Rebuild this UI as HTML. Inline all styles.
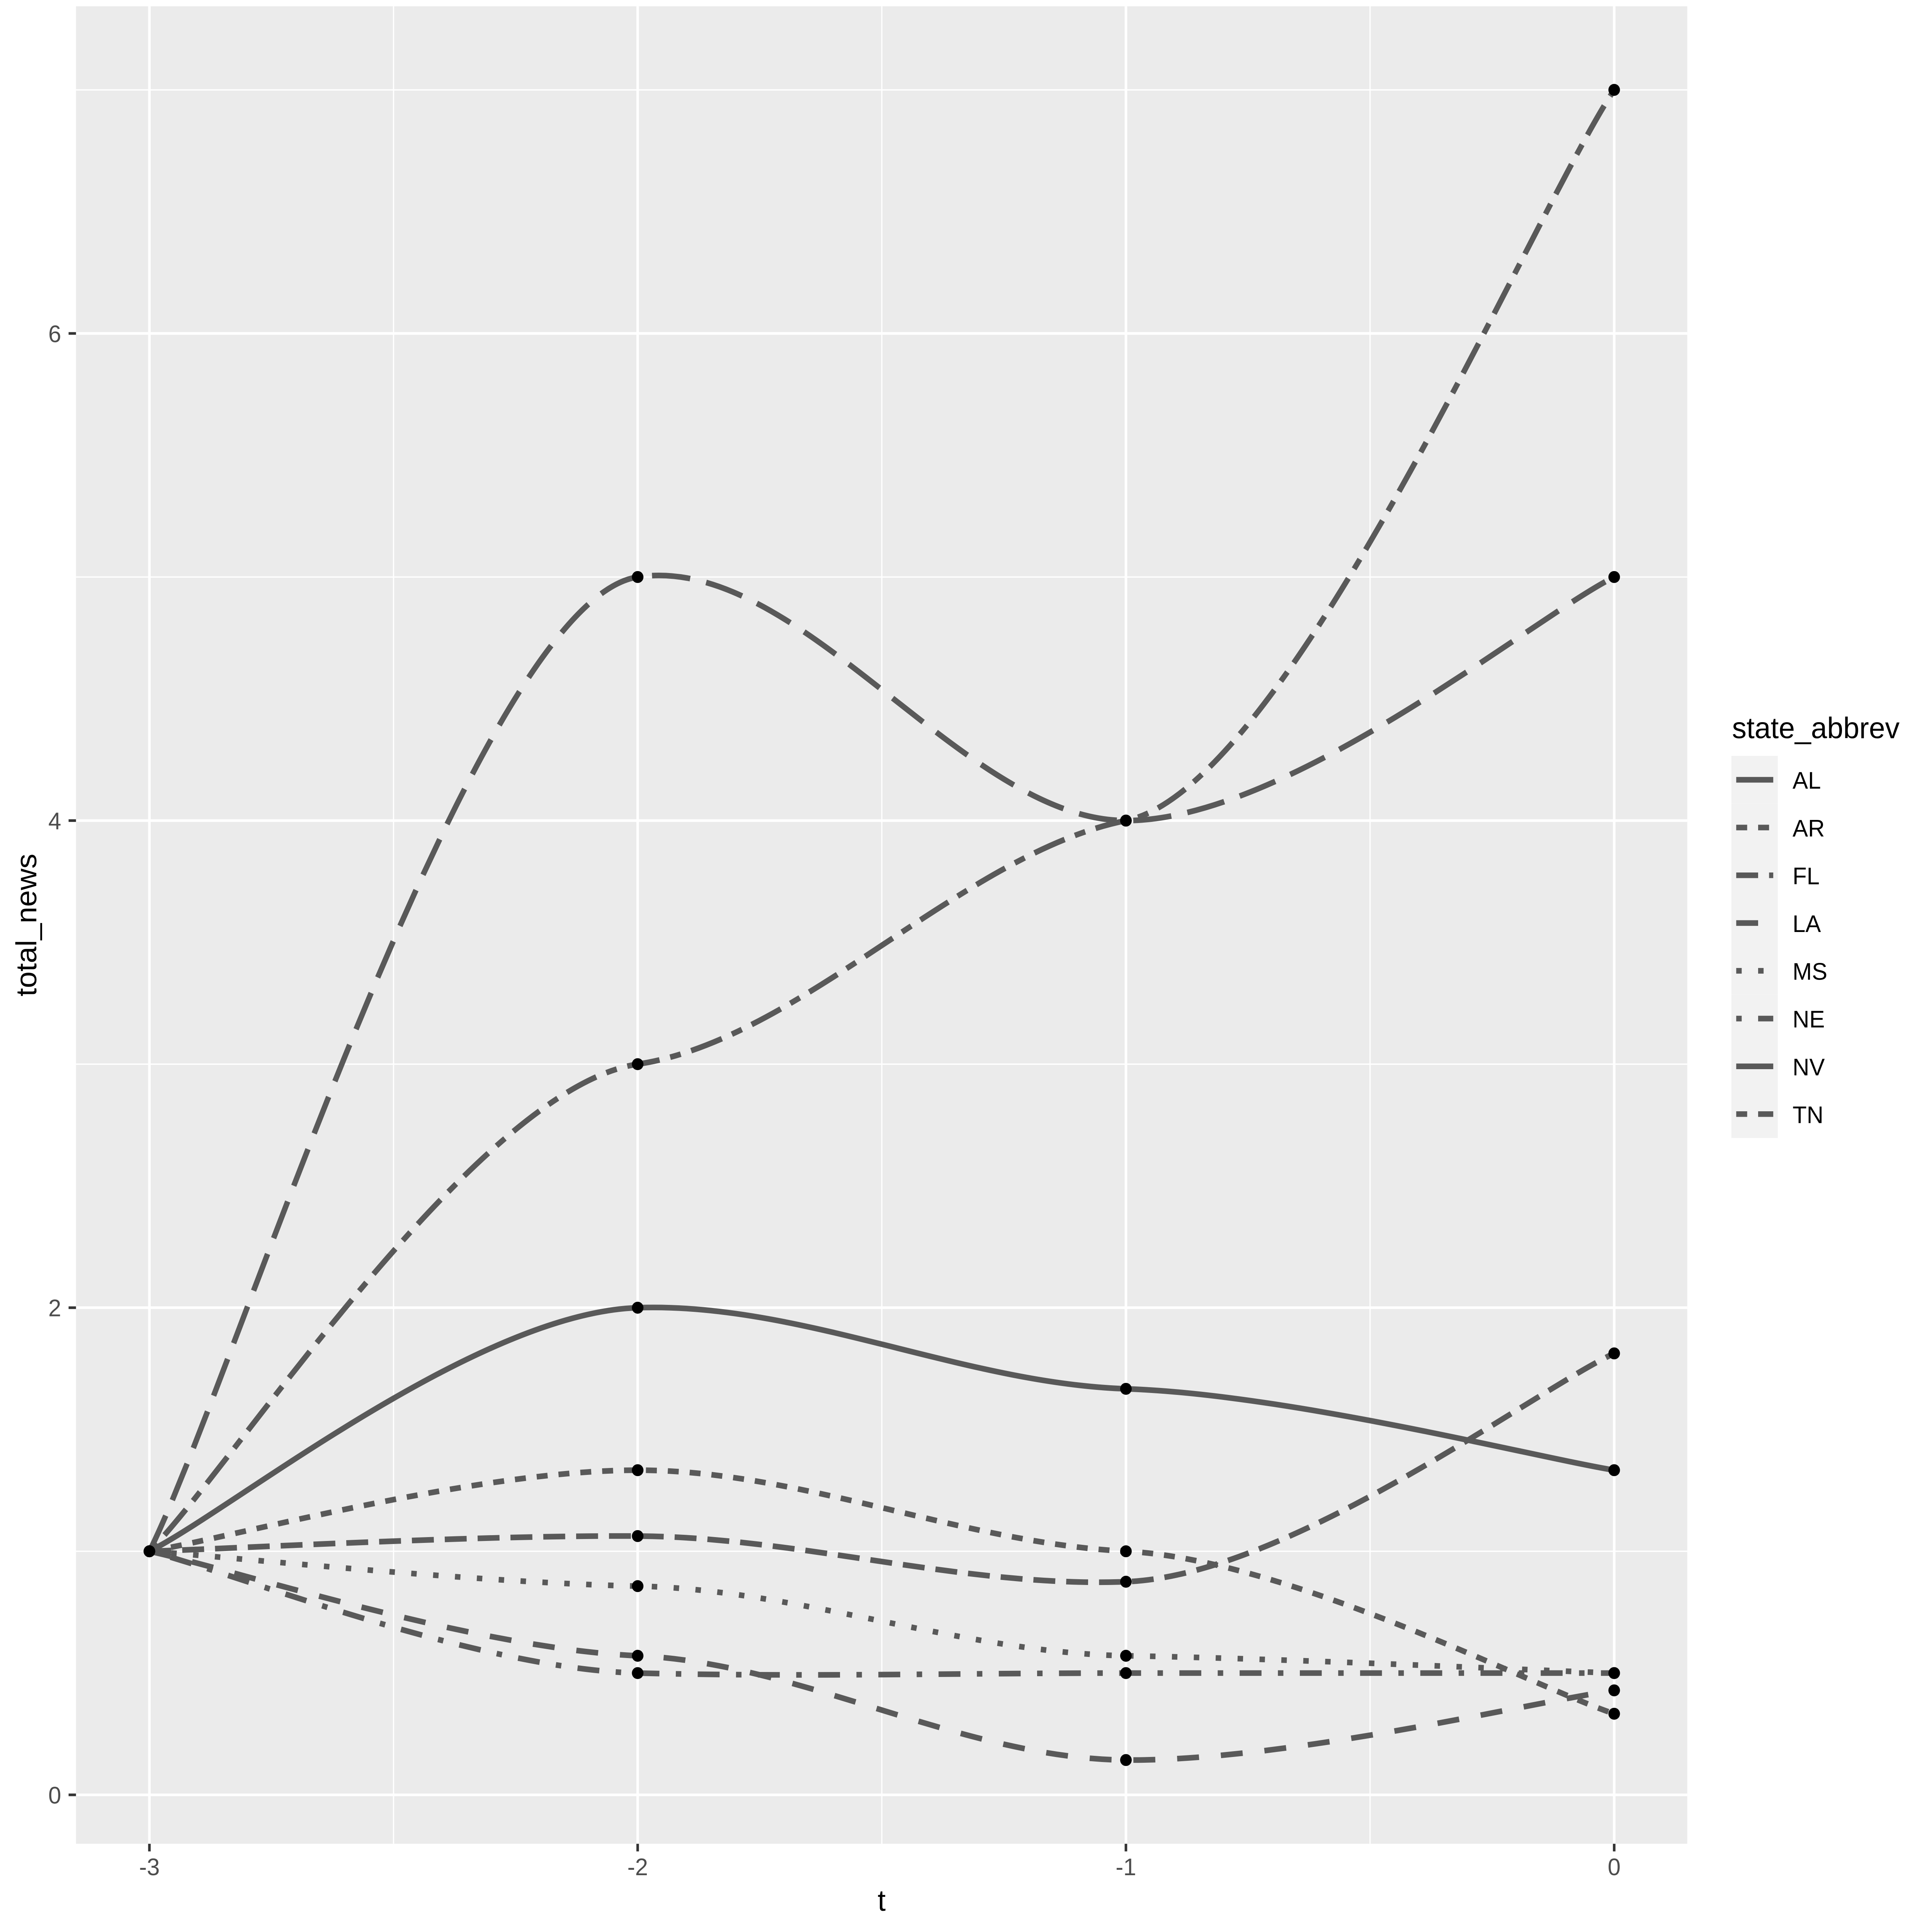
<!DOCTYPE html>
<html><head><meta charset="utf-8"><style>
html,body{margin:0;padding:0;background:#fff;width:100%;height:100%;overflow:hidden;}
svg{display:block;position:absolute;left:0;top:0;width:100vw;height:100vh;font-family:"Liberation Sans",Arial,sans-serif;}
</style></head><body>
<svg id="chart" viewBox="0 0 6000 5825" preserveAspectRatio="none" xmlns="http://www.w3.org/2000/svg">
<rect x="0" y="0" width="6000" height="5825" fill="#ffffff"/>
<rect x="236" y="19" width="5004" height="5540" fill="#EBEBEB"/>
<g id="grid"></g>
<g id="series"></g>
<g id="points"></g>
<g id="axes"></g>
<text x="2738" y="5761" font-size="90" text-anchor="middle" fill="#000">t</text>
<text x="113" y="2789" font-size="90" text-anchor="middle" fill="#000" transform="rotate(-90 113 2789)">total_news</text>
<text x="5379" y="2226" font-size="90" fill="#000">state_abbrev</text>
<g id="legend"></g>
</svg>
<script>
const tValues = [-3, -2, -1, 0];
const states = ["AL", "AR", "FL", "LA", "MS", "NE", "NV", "TN"];
const valAL = [1, 2, 1.667, 1.333];
const valAR = [1, 1.333, 1.0, 0.333];
const valFL = [1, 1.0625, 0.875, 1.8125];
const valLA = [1, 0.571, 0.143, 0.429];
const valMS = [1, 0.857, 0.571, 0.5];
const valNE = [1, 0.5, 0.5, 0.5];
const valNV = [1, 5, 4, 5];
const valTN = [1, 3, 4, 7];
const xTickLabels = ["-3", "-2", "-1", "0"];
const yTickLabels = ["0", "2", "4", "6"];
const yTickValues = [0, 2, 4, 6];
const yMinorValues = [1, 3, 5, 7];
const xMinorValues = [-2.5, -1.5, -0.5];

const seriesVals = [valAL, valAR, valFL, valLA, valMS, valNE, valNV, valTN];
const U = 17;
const dashes = ["", "34,34", "68,34", "68,68", "17,51", "17,51,68,51", "119,51", "34,34,102,34"];

const PL = 236, PR = 5240, PT = 19, PB = 5559;
function sx(v){ return 464 + (v + 3) * (5013 - 464) / 3; }
function sy(v){ return 5411.5 - v * (5411.5 - 271) / 7; }
const NS = "http://www.w3.org/2000/svg";
function mk(tag, attrs, parent){ const e = document.createElementNS(NS, tag); for (const k in attrs) e.setAttribute(k, attrs[k]); parent.appendChild(e); return e; }

const grid = document.getElementById('grid');
yMinorValues.forEach(v => {
  const l = mk('line', {x1:PL, x2:PR, y1:sy(v), y2:sy(v), stroke:'#fff', 'stroke-width':4}, grid);
  
  
});
xMinorValues.forEach(v => {
  const l = mk('line', {x1:sx(v), x2:sx(v), y1:PT, y2:PB, stroke:'#fff', 'stroke-width':4}, grid);
  
  
});
yTickValues.forEach(v => {
  const l = mk('line', {x1:PL, x2:PR, y1:sy(v), y2:sy(v), stroke:'#fff', 'stroke-width':8}, grid);
  
  
});
tValues.forEach(v => {
  const l = mk('line', {x1:sx(v), x2:sx(v), y1:PT, y2:PB, stroke:'#fff', 'stroke-width':8}, grid);
  
  
});

const axes = document.getElementById('axes');
yTickValues.forEach((v, i) => {
  const t = mk('line', {x1:213, x2:PL, y1:sy(v), y2:sy(v), stroke:'#333333', 'stroke-width':8}, axes);
  
  
  const tx = mk('text', {x:190, y:sy(v) + 26, 'font-size':72, 'text-anchor':'end', fill:'#4D4D4D'}, axes);
  tx.textContent = yTickLabels[i];
  
  
});
tValues.forEach((v, i) => {
  const t = mk('line', {x1:sx(v), x2:sx(v), y1:PB, y2:PB + 23, stroke:'#333333', 'stroke-width':8}, axes);
  
  
  const tx = mk('text', {x:sx(v), y:5654, 'font-size':72, 'text-anchor':'middle', fill:'#4D4D4D'}, axes);
  tx.textContent = xTickLabels[i];
  
  
});

function splinePath(xs, ys){
  const P = xs.map((x, i) => [sx(x), sy(ys[i])]);
  const n = P.length;
  const k = 0.2;
  let d = 'M' + P[0][0] + ',' + P[0][1];
  for (let i = 0; i < n - 1; i++){
    const p0 = P[Math.max(i - 1, 0)], p1 = P[i], p2 = P[i + 1], p3 = P[Math.min(i + 2, n - 1)];
    const k1 = (i === 0) ? 1 : k, k2 = (i + 2 > n - 1) ? 1 : k;
    const c1 = [p1[0] + (p2[0] - p0[0]) / 6, p1[1] + k1 * (p2[1] - p0[1]) / 6];
    const c2 = [p2[0] - (p3[0] - p1[0]) / 6, p2[1] - k2 * (p3[1] - p1[1]) / 6];
    d += ' C' + c1[0] + ',' + c1[1] + ' ' + c2[0] + ',' + c2[1] + ' ' + p2[0] + ',' + p2[1];
  }
  return d;
}

const series = document.getElementById('series');
const pts = document.getElementById('points');
const legend = document.getElementById('legend');
states.forEach((s, k) => {
  const vals = seriesVals[k];
  const p = mk('path', {d: splinePath(tValues, vals), fill:'none', stroke:'#595959', 'stroke-width':U, 'stroke-linecap':'butt'}, series);
  if (dashes[k]) p.setAttribute('stroke-dasharray', dashes[k]);
  
  
  vals.forEach((v, i) => {
    const c = mk('circle', {cx:sx(tValues[i]), cy:sy(v), r:18, fill:'#000'}, pts);
    
    
  });
  const ky = 2279 + k * 144;
  const bg = mk('rect', {x:5377, y:ky, width:144, height:144, fill:'#F2F2F2'}, legend);
  
  
  const ll = mk('line', {x1:5392, x2:5507, y1:ky + 72, y2:ky + 72, stroke:'#595959', 'stroke-width':U}, legend);
  if (dashes[k]) ll.setAttribute('stroke-dasharray', dashes[k]);
  
  
  const lt = mk('text', {x:5567, y:ky + 99, 'font-size':72, fill:'#000'}, legend);
  lt.textContent = s;
  
  
});
</script>
</body></html>
